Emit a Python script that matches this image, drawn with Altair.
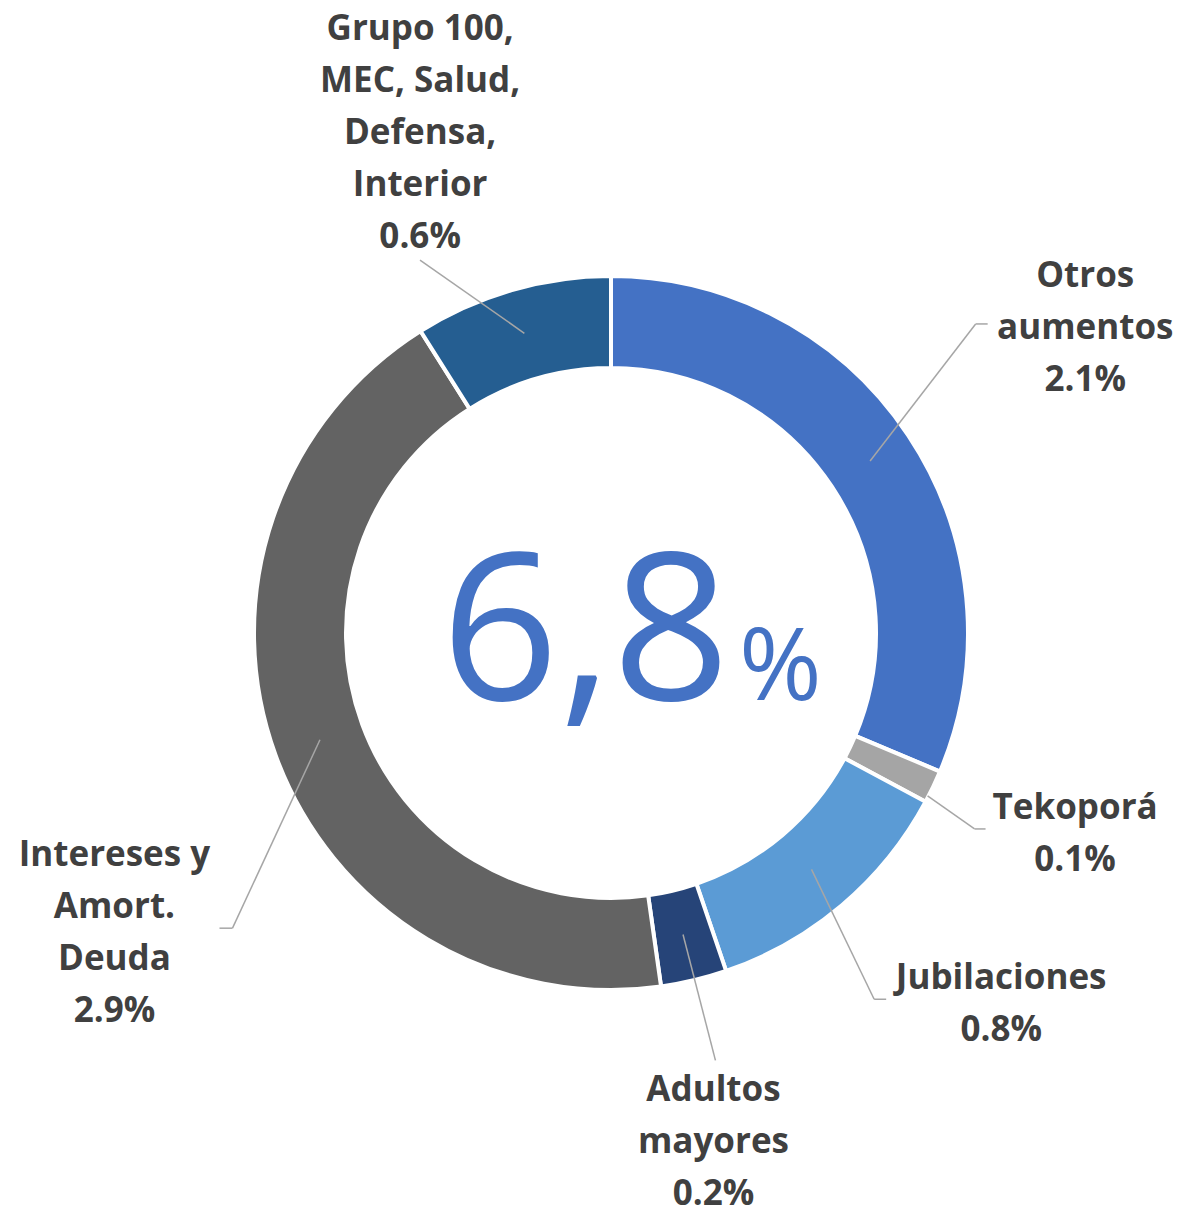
import altair as alt
import pandas as pd

# ---- data ----
categories = [
    "Otros\naumentos",
    "Tekoporá",
    "Jubilaciones",
    "Adultos\nmayores",
    "Intereses y\nAmort.\nDeuda",
    "Grupo 100,\nMEC, Salud,\nDefensa,\nInterior",
]
values = [2.1, 0.1, 0.8, 0.2, 2.9, 0.6]
total_text = "6,8"
total_unit = "%"

# ---- styles / layout ----
colors = ["#4472C4", "#A5A5A5", "#5B9BD5", "#264478", "#636363", "#255E91"]
CX, CY = 603, 625          # donut centre (plot coords)
R_OUT, R_IN = 357, 265
LINE_H = 52
# label placement in polar terms relative to each slice's mid-angle
label_r = [565, 505, 537, 517, 579, 537]
label_da = [0.65, -2.3, -6.3, 2.0, -10.8, -4.7]
lead_r0 = [311, 356, 310, 310, 310, 312]
lead_da0 = [0, 1.7, 0, 0, 0, 0]
elbow_r = [478, 413, 451, 440, 480, 419]
elbow_da = [-6.7, 2.8, 4.6, -0.3, -17.8, -11.0]
tick = [12, 11, 12, 0, -13, 0]

labels_txt = [f"{c}\n{v:.1f}%" for c, v in zip(categories, values)]
df = pd.DataFrame({
    "idx": list(range(len(categories))),
    "cat": categories,
    "value": values,
    "label": labels_txt,
    "nl": [t.count("\n") + 1 for t in labels_txt],
    "lr": label_r, "lda": label_da,
    "r0": lead_r0, "da0": lead_da0,
    "er": elbow_r, "eda": elbow_da,
    "tk": tick,
})

base = alt.Chart(df)

arcs = base.mark_arc(outerRadius=R_OUT, innerRadius=R_IN, stroke="white", strokeWidth=4).encode(
    theta=alt.Theta("value:Q", stack=True),
    order=alt.Order("idx:Q", sort="ascending"),
    color=alt.Color("cat:N", scale=alt.Scale(domain=categories, range=colors), legend=None),
    x=alt.value(CX),
    y=alt.value(CY),
)

geo = base.transform_joinaggregate(
    total="sum(value)"
).transform_window(
    cum="sum(value)", sort=[alt.SortField("idx", order="ascending")], frame=[None, 0]
).transform_calculate(
    mid="(datum.cum - datum.value/2) / datum.total * 2 * PI"
).transform_calculate(
    lx=f"{CX} + datum.lr * sin(datum.mid + datum.lda * PI / 180)",
    ly=f"{CY} + 2 - datum.lr * cos(datum.mid + datum.lda * PI / 180) - (datum.nl - 1) * {LINE_H} / 2",
    x0=f"{CX} + datum.r0 * sin(datum.mid + datum.da0 * PI / 180)",
    y0=f"{CY} - datum.r0 * cos(datum.mid + datum.da0 * PI / 180)",
    ex=f"{CX} + datum.er * sin(datum.mid + datum.eda * PI / 180)",
    ey=f"{CY} - datum.er * cos(datum.mid + datum.eda * PI / 180)",
).transform_calculate(
    tx="datum.ex + datum.tk"
)

leaders = geo.mark_rule(color="#A6A6A6", strokeWidth=1.5).encode(
    x=alt.X("x0:Q", scale=None, axis=None),
    y=alt.Y("y0:Q", scale=None, axis=None),
    x2="ex:Q",
    y2="ey:Q",
)

ticks = geo.transform_filter("datum.tk != 0").mark_rule(color="#A6A6A6", strokeWidth=1.5).encode(
    x=alt.X("ex:Q", scale=None, axis=None),
    y=alt.Y("ey:Q", scale=None, axis=None),
    x2="tx:Q",
    y2="ey:Q",
)

labels = geo.mark_text(
    font="Open Sans", fontWeight="bold", fontSize=35, color="#404040",
    lineBreak="\n", lineHeight=LINE_H, align="center", baseline="middle",
).encode(
    x=alt.X("lx:Q", scale=None, axis=None),
    y=alt.Y("ly:Q", scale=None, axis=None),
    text="label:N",
)

center_num = alt.Chart(pd.DataFrame({"t": [total_text]})).mark_text(
    font="Open Sans", fontSize=206, color="#4472C4", align="right", baseline="alphabetic",
).encode(x=alt.value(CX + 119), y=alt.value(CY + 67), text="t:N")

center_pct = alt.Chart(pd.DataFrame({"t": [total_unit]})).mark_text(
    font="Open Sans", fontSize=100, color="#4472C4", align="left", baseline="alphabetic",
).encode(x=alt.value(CX + 128), y=alt.value(CY + 67), text="t:N")

chart = alt.layer(arcs, leaders, ticks, labels, center_num, center_pct).properties(
    width=1187, height=1200, autosize="none", padding=0,
).configure_view(stroke=None)

chart.save("out.html", embed_options={"renderer": "svg", "actions": False})
